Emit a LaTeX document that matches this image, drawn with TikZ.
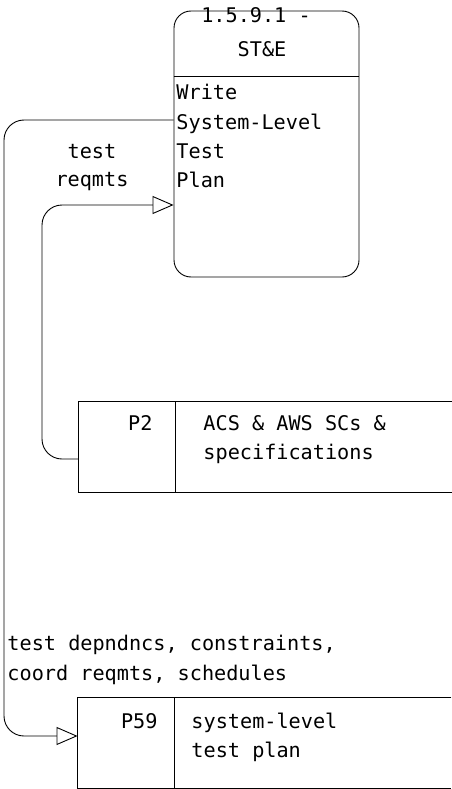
\documentclass[tikz,border=0pt]{standalone}
\usepackage{fontspec}
\setmonofont{DejaVu Sans Mono}
\usetikzlibrary{arrows.meta}
\begin{document}
\begin{tikzpicture}[x=1pt,y=-1pt,
  line width=0.9pt,
  txt/.style={font=\ttfamily\fontsize{20.2}{29}\selectfont, inner sep=0pt},
  boxfr/.style={minimum width=373pt, minimum height=90pt, inner sep=0pt},
  tip/.style={-{Triangle[open,length=21pt,width=18pt,line width=0.9pt]}},
  conn/.style={tip, rounded corners=20pt},
]
\useasboundingbox (0,0) rectangle (451,789);

% process box
\node[draw, rounded corners=17pt, minimum width=185pt, minimum height=266pt, inner sep=0pt] (proc) at (266.5,144) {};
\coordinate (dv) at (0,76);
\draw (proc.west |- dv) -- (proc.east |- dv);
\node[txt, anchor=base] (title1) at (256,23) {1.5.9.1 -};
\node[txt, anchor=base] (title2) at (262,57) {ST\&E};
\node[txt, anchor=base west] (l1) at (176,100) {Write};
\node[txt, anchor=base west] (l2) at (176,129) {System-Level};
\node[txt, anchor=base west] (l3) at (176,158) {Test};
\node[txt, anchor=base west] (l4) at (176,187) {Plan};

% P2 box
\node[boxfr] (p2) at (265.5,447) {};
\draw (p2.north east) -- (p2.north west) -- (p2.south west) -- (p2.south east);
\coordinate (d2) at (175,0);
\draw (p2.north -| d2) -- (p2.south -| d2);
\node[txt, anchor=base east] (p2id) at (153,430) {P2};
\node[txt, anchor=base west] (p2a) at (203,430) {ACS \& AWS SCs \&};
\node[txt, anchor=base west] (p2b) at (203,459) {specifications};

% P59 box
\node[boxfr] (p59) at (264.5,742.5) {};
\draw (p59.north east) -- (p59.north west) -- (p59.south west) -- (p59.south east);
\coordinate (d59) at (174,0);
\draw (p59.north -| d59) -- (p59.south -| d59);
\node[txt, anchor=base east] (p59id) at (158,728) {P59};
\node[txt, anchor=base west] (p59a) at (191,728) {system-level};
\node[txt, anchor=base west] (p59b) at (191,757) {test plan};

% labels
\node[txt, anchor=base] (lab1) at (92,158) {test};
\node[txt, anchor=base] (lab2) at (92,186) {reqmts};
\node[txt, anchor=base west] (lab3) at (7,650) {test depndncs, constraints,};
\node[txt, anchor=base west] (lab4) at (7,680) {coord reqmts, schedules};

% connectors
\coordinate (y1) at (0,120);
\coordinate (y2) at (0,736);
\coordinate (y3) at (0,459);
\coordinate (y4) at (0,205);
\draw[conn] (proc.west |- y1) -- (4,120) -- (4,736) -- (p59.west |- y2);
\draw[conn] (p2.west |- y3) -- (42,459) -- (42,205) -- (proc.west |- y4);
\end{tikzpicture}
\end{document}
